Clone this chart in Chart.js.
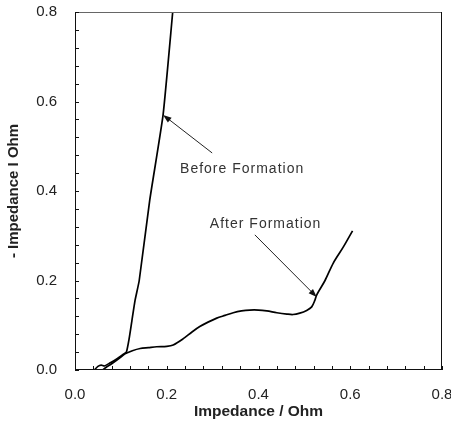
<!DOCTYPE html>
<html>
<head>
<meta charset="utf-8">
<script src="https://cdn.jsdelivr.net/npm/chart.js@4.4.0/dist/chart.umd.min.js"></script>
<style>
  html, body { margin: 0; padding: 0; background: #fff; }
  #wrap { width: 451px; height: 421px; }
</style>
</head>
<body>
<div id="wrap"><canvas id="grafico" width="451" height="421"></canvas></div>
<script>
// curva antes da formação
const beforeX = [0.042, 0.050, 0.057, 0.064, 0.075, 0.090, 0.104, 0.112, 0.118, 0.124, 0.131, 0.140, 0.163, 0.192, 0.213];
const beforeY = [0.000, 0.008, 0.011, 0.009, 0.015, 0.024, 0.034, 0.040, 0.070, 0.110, 0.156, 0.200, 0.380, 0.570, 0.800];

// curva depois da formação
const afterX = [0.060, 0.068, 0.080, 0.095, 0.109, 0.125, 0.142, 0.160, 0.178, 0.200, 0.214, 0.236, 0.255, 0.272, 0.290, 0.309, 0.327, 0.345, 0.363, 0.381, 0.400, 0.418, 0.440, 0.462, 0.475, 0.490, 0.505, 0.516, 0.523, 0.527, 0.545, 0.563, 0.585, 0.605];
const afterY = [0.000, 0.006, 0.014, 0.025, 0.036, 0.043, 0.048, 0.050, 0.052, 0.053, 0.056, 0.070, 0.085, 0.097, 0.107, 0.116, 0.122, 0.128, 0.132, 0.134, 0.134, 0.132, 0.128, 0.125, 0.124, 0.127, 0.133, 0.141, 0.156, 0.168, 0.200, 0.239, 0.275, 0.311];

// rótulos dos eixos
const xTickLabels = ['0.0', '0.2', '0.4', '0.6', '0.8'];
const yTickLabels = ['0.0', '0.2', '0.4', '0.6', '0.8'];

// anotações: texto, posição do texto, início e ponta da seta (em unidades dos dados)
const annotTexts = ['Before Formation', 'After Formation'];
const annotTextPos = [[0.229, 0.449], [0.294, 0.326]];
const arrowFrom = [[0.299, 0.485], [0.392, 0.302]];
const arrowTo = [[0.192, 0.570], [0.527, 0.163]];

const toPoints = (xs, ys) => xs.map((x, i) => ({ x: x, y: ys[i] }));

const FONT = '"Liberation Sans", Arial, sans-serif';

// desenha moldura, ticks para dentro e anotações
const extrasPlugin = {
    id: 'extras',
    afterDraw(chart) {
        const ctx = chart.ctx;
        const area = chart.chartArea;
        const xs = chart.scales.x;
        const ys = chart.scales.y;
        ctx.save();

        // moldura
        ctx.lineWidth = 1;
        ctx.strokeStyle = '#666';
        ctx.beginPath();
        ctx.moveTo(area.left, area.top + 0.5);
        ctx.lineTo(area.right, area.top + 0.5);
        ctx.stroke();
        ctx.strokeStyle = '#111';
        ctx.beginPath();
        ctx.moveTo(area.right - 0.5, area.top);
        ctx.lineTo(area.right - 0.5, area.bottom);
        ctx.moveTo(area.left + 0.5, area.top);
        ctx.lineTo(area.left + 0.5, area.bottom);
        ctx.moveTo(area.left, area.bottom - 0.5);
        ctx.lineTo(area.right, area.bottom - 0.5);
        ctx.stroke();

        // ticks menores e maiores (para dentro)
        ctx.beginPath();
        for (let k = 0; k <= 20; k++) {
            const v = k * 0.04;
            const len = 4;
            const px = Math.round(xs.getPixelForValue(v)) + 0.5;
            ctx.moveTo(px, area.bottom);
            ctx.lineTo(px, area.bottom - len);
            const py = Math.round(ys.getPixelForValue(v)) + 0.5;
            ctx.moveTo(area.left, py);
            ctx.lineTo(area.left + len, py);
        }
        ctx.stroke();

        // anotações
        ctx.font = '14px ' + FONT;
        ctx.letterSpacing = '1px';
        ctx.textBaseline = 'middle';
        ctx.textAlign = 'left';
        annotTexts.forEach((t, i) => {
            const tx = xs.getPixelForValue(annotTextPos[i][0]);
            const ty = ys.getPixelForValue(annotTextPos[i][1]);
            ctx.fillStyle = '#333';
            ctx.fillText(t, tx, ty);

            const x0 = xs.getPixelForValue(arrowFrom[i][0]);
            const y0 = ys.getPixelForValue(arrowFrom[i][1]);
            const x1 = xs.getPixelForValue(arrowTo[i][0]);
            const y1 = ys.getPixelForValue(arrowTo[i][1]);
            const ang = Math.atan2(y1 - y0, x1 - x0);
            const head = 9;
            ctx.strokeStyle = '#222';
            ctx.lineWidth = 1;
            ctx.beginPath();
            ctx.moveTo(x0, y0);
            ctx.lineTo(x1 - Math.cos(ang) * head * 0.8, y1 - Math.sin(ang) * head * 0.8);
            ctx.stroke();
            ctx.fillStyle = '#111';
            ctx.beginPath();
            ctx.moveTo(x1, y1);
            ctx.lineTo(x1 - head * Math.cos(ang - 0.35), y1 - head * Math.sin(ang - 0.35));
            ctx.lineTo(x1 - head * Math.cos(ang + 0.35), y1 - head * Math.sin(ang + 0.35));
            ctx.closePath();
            ctx.fill();
        });

        ctx.restore();
    }
};

new Chart(document.getElementById('grafico'), {
    type: 'scatter',
    data: {
        datasets: [{
            label: 'Before Formation',
            data: toPoints(beforeX, beforeY),
            showLine: true,
            borderColor: '#000',
            borderWidth: 1.7,
            pointRadius: 0,
            tension: 0.15
        }, {
            label: 'After Formation',
            data: toPoints(afterX, afterY),
            showLine: true,
            borderColor: '#000',
            borderWidth: 1.7,
            pointRadius: 0,
            tension: 0.3
        }]
    },
    options: {
        responsive: false,
        animation: false,
        layout: { padding: { left: 0, right: 9, top: 12, bottom: 0 } },
        plugins: {
            legend: { display: false },
            tooltip: { enabled: false }
        },
        scales: {
            x: {
                type: 'linear',
                min: 0,
                max: 0.8,
                afterFit(scale) {
                    scale.height = 51;
                    scale.paddingLeft = 0;
                    scale.paddingRight = 0;
                },
                afterBuildTicks(scale) {
                    scale.ticks = xTickLabels.map(t => ({ value: parseFloat(t) }));
                },
                grid: { display: false, drawTicks: false },
                border: { display: false },
                ticks: {
                    padding: 16,
                    color: '#222',
                    font: { family: FONT, size: 15 },
                    callback: (v, i) => xTickLabels[i]
                },
                title: {
                    display: true,
                    text: 'Impedance / Ohm',
                    color: '#222',
                    font: { family: FONT, size: 15.5, weight: 'bold' },
                    padding: { top: 0, bottom: 0 }
                }
            },
            y: {
                type: 'linear',
                min: 0,
                max: 0.8,
                afterFit(scale) {
                    scale.width = 75;
                    scale.paddingTop = 0;
                    scale.paddingBottom = 0;
                },
                afterBuildTicks(scale) {
                    scale.ticks = yTickLabels.map(t => ({ value: parseFloat(t) }));
                },
                grid: { display: false, drawTicks: false },
                border: { display: false },
                ticks: {
                    padding: 18,
                    color: '#222',
                    font: { family: FONT, size: 15 },
                    callback: (v, i) => yTickLabels[i]
                },
                title: {
                    display: true,
                    text: '- Impedance I Ohm',
                    color: '#222',
                    font: { family: FONT, size: 15, weight: 'bold' },
                    padding: { top: 5, bottom: 0 }
                }
            }
        }
    },
    plugins: [extrasPlugin]
});
</script>
</body>
</html>
